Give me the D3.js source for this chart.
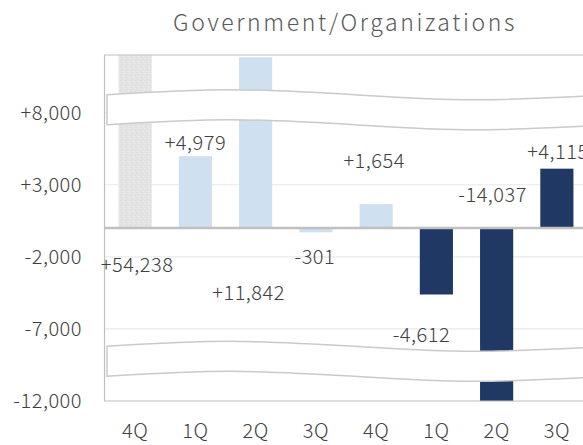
<!DOCTYPE html>
<html>
<head>
<meta charset="utf-8">
<script src="https://cdn.jsdelivr.net/npm/d3@7"></script>
<style>
  html, body { margin: 0; padding: 0; background: #fff; }
  svg { display: block; }
  text { font-family: "Noto Sans CJK JP", "Noto Sans", sans-serif; font-weight: 300; }
</style>
</head>
<body>
<svg id="chart" width="583" height="445"></svg>
<script>
// ---------- data ----------
const categories = ["4Q", "1Q", "2Q", "3Q", "4Q", "1Q", "2Q", "3Q"];
const groups     = ["prev", "y1", "y1", "y1", "y1", "y2", "y2", "y2"];
const values     = [54238, 4979, 11842, -301, 1654, -4612, -14037, 4115];
const valueLabels = ["+54,238", "+4,979", "+11,842", "-301", "+1,654", "-4,612", "-14,037", "+4,115"];
const tickValues = [8000, 3000, -2000, -7000, -12000];
const tickLabels = ["+8,000", "+3,000", "-2,000", "-7,000", "-12,000"];
const title = "Government/Organizations";

// ---------- layout (not data) ----------
const W = 583, H = 445;
const plot = { left: 104.5, top: 55, right: 587, bottom: 401 };
const labelDx = [2, 0, -7, -1, -2, -15, -4, 1];
const labelY  = [263, 141, 291, 255, 159, 333, 193, 150];
const breakCenters = [8200, -9250];
const colors = { prev: "#e3e3e3", y1: "#cfe0f1", y2: "#203864" };
const FONT = '"Noto Sans CJK JP", "Noto Sans", sans-serif';

const svg = d3.select("#chart");
const idx = categories.map((d, i) => i);

const x = d3.scaleBand().domain(idx).range([plot.left + 0.5, plot.right])
  .paddingInner(0.45).paddingOuter(0.225);
const y = d3.scaleLinear().domain([-12000, 12000]).range([plot.bottom, plot.top]);

// defs: clip + texture for gray bar
const defs = svg.append("defs");
defs.append("clipPath").attr("id", "plotClip").append("rect")
  .attr("x", plot.left).attr("y", plot.top)
  .attr("width", plot.right - plot.left).attr("height", plot.bottom - plot.top);
const pat = defs.append("pattern").attr("id", "grayTex")
  .attr("width", 5).attr("height", 5).attr("patternUnits", "userSpaceOnUse");
pat.append("rect").attr("width", 5).attr("height", 5).attr("fill", "#e4e4e4");
[[0,0,"#dbdbdb"],[3,1,"#ededed"],[1,2,"#dcdcdc"],[4,3,"#ebebeb"],[2,4,"#dddddd"]].forEach(p => {
  pat.append("rect").attr("x", p[0]).attr("y", p[1]).attr("width", 1).attr("height", 1).attr("fill", p[2]);
});

// title
svg.append("text")
  .attr("x", 345).attr("y", 21)
  .attr("text-anchor", "middle").attr("dominant-baseline", "central")
  .attr("font-size", 23).attr("letter-spacing", 2.6)
  .attr("fill", "#595959")
  .text(title);

// gridlines
svg.append("g").selectAll("line")
  .data(tickValues.filter(v => v > -12000))
  .join("line")
  .attr("x1", plot.left).attr("x2", W)
  .attr("y1", d => y(d)).attr("y2", d => y(d))
  .attr("stroke", "#e8e8e8").attr("stroke-width", 1.2);

// bars
svg.append("g").attr("clip-path", "url(#plotClip)")
  .selectAll("rect")
  .data(idx)
  .join("rect")
  .attr("x", i => x(i))
  .attr("width", x.bandwidth())
  .attr("y", i => Math.min(y(values[i]), y(0)))
  .attr("height", i => Math.abs(y(values[i]) - y(0)))
  .attr("fill", i => groups[i] === "prev" ? "url(#grayTex)" : colors[groups[i]]);

// zero line
svg.append("line")
  .attr("x1", plot.left).attr("x2", W)
  .attr("y1", y(0)).attr("y2", y(0))
  .attr("stroke", "#c0c0c0").attr("stroke-width", 2.6);

// break bands (wavy)
const waveX = [107, 230, 355, 475, 610];
const waveOff = [0, -5, 0, 5, 0];
const bandHalf = 15;
const waveLine = d3.line().curve(d3.curveNatural);
breakCenters.forEach(v => {
  const c = y(v);
  const top = waveX.map((wx, k) => [wx, c - bandHalf + waveOff[k]]);
  const bot = waveX.map((wx, k) => [wx, c + bandHalf + waveOff[k]]).reverse();
  const d = waveLine(top) + "L" + waveLine(bot).slice(1) + "Z";
  svg.append("path").attr("d", d)
    .attr("fill", "#fff").attr("stroke", "#cacaca").attr("stroke-width", 1.5);
});

// plot border (left, top, bottom)
svg.append("path")
  .attr("d", `M${W},${plot.top}H${plot.left}V${plot.bottom}H${W}`)
  .attr("fill", "none").attr("stroke", "#bfbfbf").attr("stroke-width", 1.2);

// y axis labels
const yAxis = d3.axisLeft(y).tickValues(tickValues)
  .tickFormat((d, i) => tickLabels[i]).tickSize(0).tickPadding(0);
const ya = svg.append("g").attr("transform", `translate(82,0)`).call(yAxis);
ya.select(".domain").remove();
ya.selectAll("text")
  .attr("font-family", FONT).attr("font-weight", 300)
  .attr("font-size", 20).attr("letter-spacing", 0.5).attr("fill", "#404040");

// x axis labels
const xAxis = d3.axisBottom(x).tickFormat(i => categories[i]).tickSize(0).tickPadding(0);
const xa = svg.append("g").attr("transform", `translate(0,424)`).call(xAxis);
xa.select(".domain").remove();
xa.selectAll("text")
  .attr("font-family", FONT).attr("font-weight", 300)
  .attr("font-size", 20).attr("letter-spacing", 0.5).attr("fill", "#404040");

// value labels
svg.append("g").selectAll("text")
  .data(idx)
  .join("text")
  .attr("x", i => x(i) + x.bandwidth() / 2 + labelDx[i])
  .attr("y", i => labelY[i])
  .attr("text-anchor", "middle").attr("dominant-baseline", "central")
  .attr("font-size", 20).attr("letter-spacing", 0.5).attr("fill", "#404040")
  .text(i => valueLabels[i]);
</script>
</body>
</html>
